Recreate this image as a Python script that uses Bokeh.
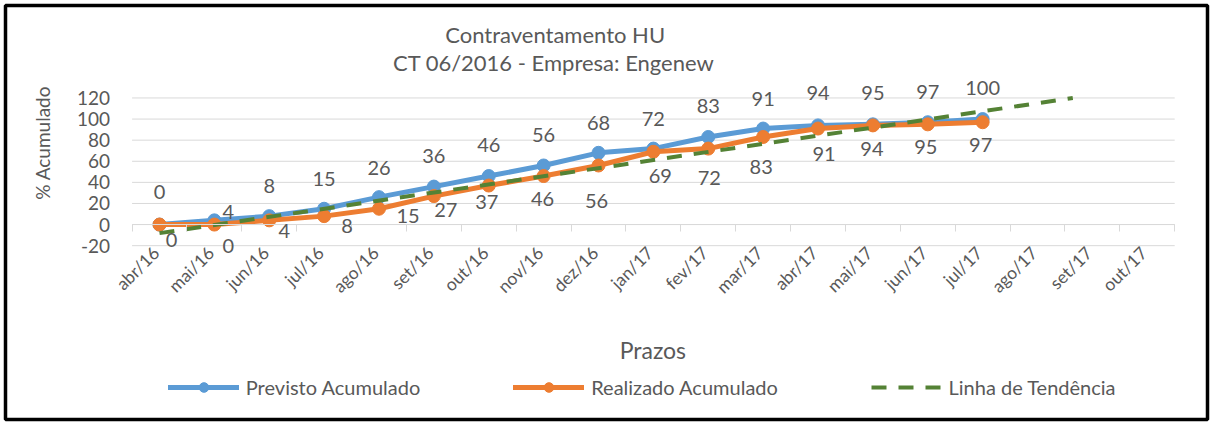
import math
import numpy as np
from bokeh.plotting import figure
from bokeh.models import (ColumnDataSource, FixedTicker, LinearAxis, Range1d, Label,
                          LabelSet, Legend, LegendItem)
from bokeh.core.properties import value
from bokeh.embed import file_html
from bokeh.resources import INLINE

# ---------------- data ----------------
meses = ["abr/16", "mai/16", "jun/16", "jul/16", "ago/16", "set/16", "out/16", "nov/16",
         "dez/16", "jan/17", "fev/17", "mar/17", "abr/17", "mai/17", "jun/17", "jul/17",
         "ago/17", "set/17", "out/17"]
previsto = [0, 4, 8, 15, 26, 36, 46, 56, 68, 72, 83, 91, 94, 95, 97, 100]
realizado = [0, 0, 4, 8, 15, 27, 37, 46, 56, 69, 72, 83, 91, 94, 95, 97]
y_ticks = [-20, 0, 20, 40, 60, 80, 100, 120]
titulo1 = "Contraventamento HU"
titulo2 = "CT 06/2016 - Empresa: Engenew"
eixo_x = "Prazos"
eixo_y = "% Acumulado"
serie_nomes = ["Previsto Acumulado", "Realizado Acumulado", "Linha de Tendência"]
tendencia_avanco = 2  # trendline forecast periods

# ---------------- label layout (pixel offsets, up positive) ----------------
prev_dx = [0, 14, 0, 0, 0, 0, 0, 0, 0, 0, 0, 0, 0, 0, 0, 0]
prev_dy = [33, 8, 30, 30, 29, 31, 31, 30, 30, 30, 31, 30, 32, 31, 30, 31]
real_dx = [12, 14, 15, 23, 29, 12, -2, -1, -2, 7, 1, -2, 6, -1, -2, -2]
real_dy = [-15, -21, -11, -10, -7, -14, -16, -23, -36, -24, -29, -30, -25, -24, -23, -23]

BLUE = "#5b9bd5"
ORANGE = "#ed7d31"
GREEN = "#548235"
TXT = "#595959"
GRID = "#d9d9d9"
FONT = "Lato"

# ---------------- geometry (reference 1228x432 layout scaled to canvas) ----------------
W, H, B = 1212, 424, 5
KX, KY = W / 1228, H / 432
PA_LEFT, CAT_W = 133.3, 55.6          # plot-area left edge and category width (ref px)
ZERO_Y, PX_PER_UNIT = 228.3, 1.075    # ref px of value 0 and px per unit

# data ranges so that the frame (canvas minus border B) maps the reference layout
x0 = (B / KX - PA_LEFT) / CAT_W
x1 = ((W - B) / KX - PA_LEFT) / CAT_W
y1 = (ZERO_Y - B / KY) / PX_PER_UNIT
y0 = (ZERO_Y - (H - B) / KY) / PX_PER_UNIT

def scr(rx, ry):
    """reference pixel -> screen units relative to frame (x right, y up)"""
    return rx * KX - B, (H - B) - ry * KY

p = figure(width=W, height=H, x_range=Range1d(x0, x1), y_range=Range1d(y0, y1),
           output_backend="svg", toolbar_location=None, x_axis_type=None, y_axis_type=None,
           min_border_left=B, min_border_right=B, min_border_top=B, min_border_bottom=B)
p.outline_line_color = "black"
p.outline_line_width = 3.5
p.background_fill_color = "white"
p.border_fill_color = "white"

ncat = len(meses)

# horizontal gridlines over the plot area
p.segment(x0=[0] * len(y_ticks), y0=y_ticks, x1=[ncat] * len(y_ticks), y1=y_ticks,
          line_color=GRID, line_width=1)

# y axis at the left edge of the plot area
yaxis = LinearAxis(fixed_location=0, ticker=FixedTicker(ticks=y_ticks),
                   major_label_overrides={v: str(v) for v in y_ticks},
                   axis_line_color=None, major_tick_line_color=None, minor_tick_line_color=None,
                   major_tick_out=0, major_tick_in=0, major_label_standoff=22,
                   major_label_text_font=FONT, major_label_text_font_size="19px",
                   major_label_text_color=TXT)
p.add_layout(yaxis, "left")

# horizontal axis line at zero with ticks at category boundaries
zaxis = LinearAxis(fixed_location=0, ticker=FixedTicker(ticks=list(range(ncat + 1))),
                   bounds=(0, ncat), axis_line_color=GRID, axis_line_width=1,
                   major_tick_line_color=GRID, major_tick_out=7, major_tick_in=0,
                   minor_tick_line_color=None, major_label_text_alpha=0,
                   major_label_text_font_size="1px")
p.add_layout(zaxis, "below")

# category labels at the bottom of the plot area, rotated
label_pos = [i + 0.5 - 0.0625 for i in range(ncat)]
xaxis = LinearAxis(fixed_location=y_ticks[0], ticker=FixedTicker(ticks=label_pos),
                   major_label_overrides={pos: m for pos, m in zip(label_pos, meses)},
                   major_label_orientation=math.pi / 4, axis_line_color=None,
                   major_tick_line_color=None, minor_tick_line_color=None,
                   major_tick_out=0, major_tick_in=0, major_label_standoff=4,
                   major_label_text_font=FONT, major_label_text_font_size="17.5px",
                   major_label_text_color=TXT)
p.add_layout(xaxis, "below")

# series
xp = [i + 0.5 for i in range(len(previsto))]
xr = [i + 0.5 for i in range(len(realizado))]
src_p = ColumnDataSource(dict(x=xp, y=previsto, t=[str(v) for v in previsto], dx=prev_dx, dy=prev_dy))
src_r = ColumnDataSource(dict(x=xr, y=realizado, t=[str(v) for v in realizado], dx=real_dx, dy=real_dy))

lp = p.line("x", "y", source=src_p, line_color=BLUE, line_width=5, line_join="round", line_cap="round")
sp = p.scatter("x", "y", source=src_p, size=13, fill_color=BLUE, line_color=BLUE)
lr = p.line("x", "y", source=src_r, line_color=ORANGE, line_width=5, line_join="round", line_cap="round")
sr = p.scatter("x", "y", source=src_r, size=13, fill_color=ORANGE, line_color=ORANGE)

# linear trendline of realizado, forecast forward, cut at the axis maximum
idx = np.arange(1, len(realizado) + 1)
a, b = np.polyfit(idx, realizado, 1)
t_start, t_end = 1.0, float(len(realizado) + tendencia_avanco)
if a * t_end + b > y_ticks[-1]:
    t_end = (y_ticks[-1] - b) / a
t_idx = np.array([t_start, t_end])
lt = p.line(list(t_idx - 0.5), list(a * t_idx + b), line_color=GREEN, line_width=4,
            line_dash="15 12")

for src in (src_p, src_r):
    p.add_layout(LabelSet(x="x", y="y", text="t", x_offset="dx", y_offset="dy", source=src,
                          text_align="center", text_baseline="middle", text_font=value(FONT),
                          text_font_size="20px", text_color=TXT))

# titles / axis titles
def lab(txt, rx, ry, size, angle=0.0):
    sx, sy = scr(rx, ry)
    p.add_layout(Label(x=sx, y=sy, x_units="screen", y_units="screen", text=txt, angle=angle,
                       text_align="center", text_baseline="middle", text_font=FONT,
                       text_font_size=size, text_color=TXT))

lab(titulo1, 562, 35, "22px")
lab(titulo2, 560.5, 63.5, "22px")
lab(eixo_y, 43, 145, "19px", math.pi / 2)
lab(eixo_x, 661, 356, "23px")

# legend: one block per series at the reference positions
LEG_H = 24
for name, rends, rx in zip(serie_nomes, [[lp, sp], [lr, sr], [lt]], [170, 520, 882]):
    sx, sy = scr(rx, 394)
    p.add_layout(Legend(items=[LegendItem(label=name, renderers=rends)],
                        location=(sx, sy - LEG_H / 2), orientation="horizontal",
                        glyph_width=71, glyph_height=LEG_H, label_height=LEG_H,
                        label_standoff=7, padding=0, margin=0, border_line_color=None,
                        background_fill_alpha=0, label_text_font=FONT,
                        label_text_font_size="20px", label_text_color=TXT))

open("out.html", "w").write(file_html(p, INLINE))
